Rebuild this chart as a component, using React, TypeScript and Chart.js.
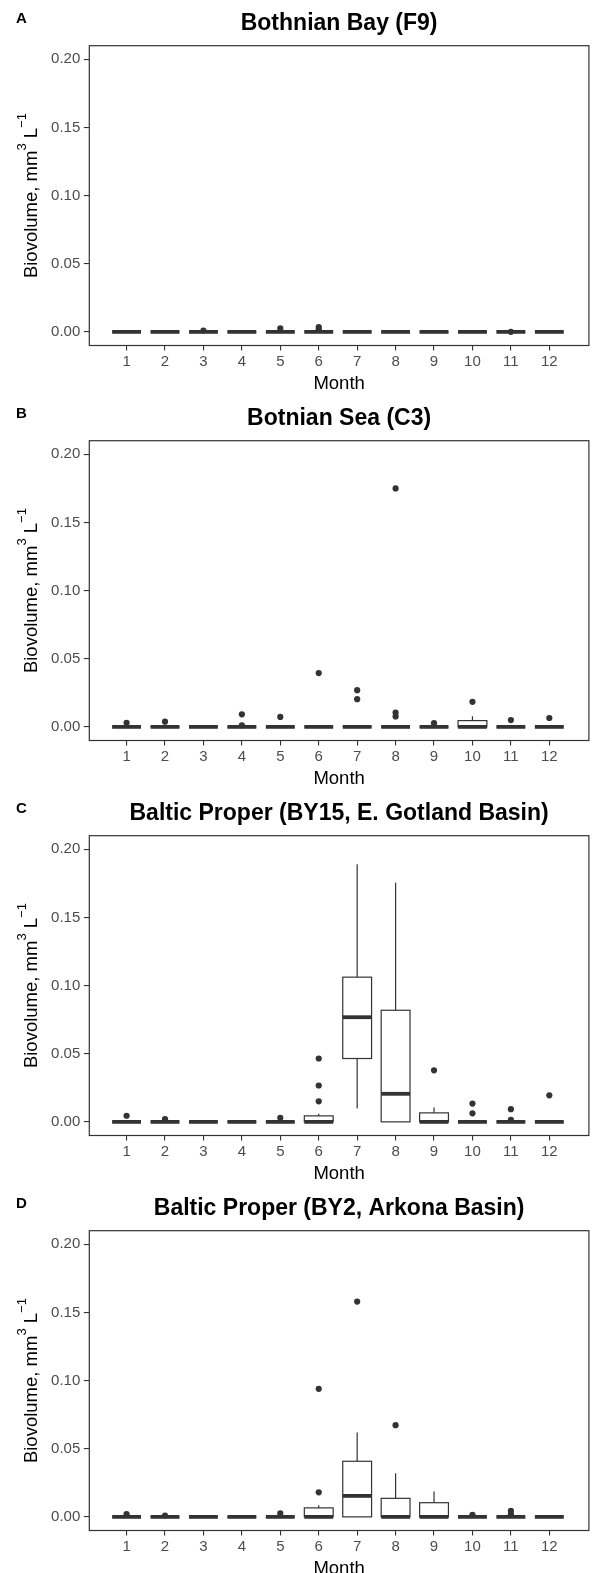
import React, { useEffect, useRef } from 'react';
import { Chart, registerables } from 'chart.js';

Chart.register(...registerables);

const FONT = "'Liberation Sans', Arial, Helvetica, sans-serif";
const INK = '#333333';
const TICK_TEXT = '#4D4D4D';

// ---------- data ----------
const MONTHS = [1, 2, 3, 4, 5, 6, 7, 8, 9, 10, 11, 12];
const Y_TICKS = [0, 0.05, 0.1, 0.15, 0.2];
const Y_MIN = -0.01;
const Y_MAX = 0.21;
const X_MIN = 0.03;
const X_MAX = 13.03;

const PANEL_LETTERS = ['A', 'B', 'C', 'D'];
const PANEL_TITLES = [
  'Bothnian Bay (F9)',
  'Botnian Sea (C3)',
  'Baltic Proper (BY15, E. Gotland Basin)',
  'Baltic Proper (BY2, Arkona Basin)',
];
const X_TITLE = 'Month';

// A: Bothnian Bay (F9)
const F9_LOW = [0, 0, 0, 0, 0, 0, 0, 0, 0, 0, 0, 0];
const F9_Q1 = [0, 0, 0, 0, 0, 0, 0, 0, 0, 0, 0, 0];
const F9_MED = [0, 0, 0, 0, 0, 0, 0, 0, 0, 0, 0, 0];
const F9_Q3 = [0, 0, 0, 0, 0, 0, 0, 0, 0, 0, 0, 0];
const F9_HIGH = [0, 0, 0, 0, 0, 0, 0, 0, 0, 0, 0, 0];
const F9_OUT = [[], [], [0.001], [], [0.0025], [0.002, 0.0035], [], [], [], [], [0], []];

// B: Botnian Sea (C3)
const C3_LOW = [0, 0, 0, 0, 0, 0, 0, 0, 0, 0, 0, 0];
const C3_Q1 = [0, 0, 0, 0, 0, 0, 0, 0, 0, 0, 0, 0];
const C3_MED = [0, 0, 0, 0, 0, 0, 0, 0, 0, 0, 0, 0];
const C3_Q3 = [0, 0, 0, 0, 0, 0, 0, 0, 0, 0.0046, 0, 0];
const C3_HIGH = [0, 0, 0, 0, 0, 0, 0, 0, 0, 0.0078, 0, 0];
const C3_OUT = [
  [0.003], [0.0038], [], [0.0092, 0.0012], [0.0073], [0.0395],
  [0.0269, 0.0203], [0.175, 0.0105, 0.0077], [0.0027], [0.0184], [0.005], [0.0065],
];

// C: Baltic Proper (BY15)
const BY15_LOW = [0, 0, 0, 0, 0, 0, 0.0098, 0, 0, 0, 0, 0];
const BY15_Q1 = [0, 0, 0, 0, 0, 0, 0.0465, 0, 0, 0, 0, 0];
const BY15_MED = [0, 0, 0, 0, 0, 0, 0.0768, 0.0206, 0, 0, 0, 0];
const BY15_Q3 = [0, 0, 0, 0, 0, 0.0044, 0.1062, 0.0819, 0.0066, 0, 0, 0];
const BY15_HIGH = [0, 0, 0, 0, 0, 0.006, 0.1891, 0.1755, 0.0105, 0, 0, 0];
const BY15_OUT = [
  [0.0045], [0.002], [], [], [0.003], [0.0465, 0.0267, 0.0151],
  [], [], [0.0378], [0.0134, 0.0063], [0.0093, 0.0014], [0.0195],
];

// D: Baltic Proper (BY2)
const BY2_LOW = [0, 0, 0, 0, 0, 0, 0, 0, 0, 0, 0, 0];
const BY2_Q1 = [0, 0, 0, 0, 0, 0, 0, 0, 0, 0, 0, 0];
const BY2_MED = [0, 0, 0, 0, 0, 0, 0.0154, 0, 0, 0, 0, 0];
const BY2_Q3 = [0, 0, 0, 0, 0, 0.0066, 0.0408, 0.0136, 0.0104, 0, 0, 0];
const BY2_HIGH = [0, 0, 0, 0, 0, 0.0085, 0.062, 0.032, 0.0187, 0, 0, 0];
const BY2_OUT = [
  [0.002], [0.001], [], [], [0.0025], [0.094, 0.018],
  [0.158], [0.0673], [], [0.0015], [0.0045, 0.002], [],
];

type Stats = {
  low: number[]; q1: number[]; med: number[]; q3: number[]; high: number[]; out: number[][];
};

const PANELS: Stats[] = [
  { low: F9_LOW, q1: F9_Q1, med: F9_MED, q3: F9_Q3, high: F9_HIGH, out: F9_OUT },
  { low: C3_LOW, q1: C3_Q1, med: C3_MED, q3: C3_Q3, high: C3_HIGH, out: C3_OUT },
  { low: BY15_LOW, q1: BY15_Q1, med: BY15_MED, q3: BY15_Q3, high: BY15_HIGH, out: BY15_OUT },
  { low: BY2_LOW, q1: BY2_Q1, med: BY2_MED, q3: BY2_Q3, high: BY2_HIGH, out: BY2_OUT },
];

// ---------- drawing ----------
const BOX_HALF = 0.375;
const PANEL_W = 592;
const PANEL_H = 395;

function makeBoxPlugin(stats: Stats) {
  return {
    id: 'boxes',
    afterDatasetsDraw(chart: any) {
      const xs = chart.scales.x;
      const ys = chart.scales.y;
      const ctx = chart.ctx as CanvasRenderingContext2D;
      ctx.save();
      ctx.strokeStyle = INK;
      ctx.lineCap = 'butt';
      MONTHS.forEach((m, i) => {
        const xl = xs.getPixelForValue(m - BOX_HALF);
        const xr = xs.getPixelForValue(m + BOX_HALF);
        const xc = xs.getPixelForValue(m);
        const yLow = ys.getPixelForValue(stats.low[i]);
        const yQ1 = ys.getPixelForValue(stats.q1[i]);
        const yMed = ys.getPixelForValue(stats.med[i]);
        const yQ3 = ys.getPixelForValue(stats.q3[i]);
        const yHigh = ys.getPixelForValue(stats.high[i]);
        ctx.lineWidth = 1.2;
        ctx.beginPath();
        ctx.moveTo(xc, yQ3);
        ctx.lineTo(xc, yHigh);
        ctx.moveTo(xc, yQ1);
        ctx.lineTo(xc, yLow);
        ctx.stroke();
        ctx.fillStyle = '#ffffff';
        ctx.fillRect(xl, yQ3, xr - xl, yQ1 - yQ3);
        ctx.strokeRect(xl, yQ3, xr - xl, yQ1 - yQ3);
        ctx.lineWidth = 3.8;
        ctx.beginPath();
        ctx.moveTo(xl, yMed);
        ctx.lineTo(xr, yMed);
        ctx.stroke();
      });
      ctx.restore();
    },
  };
}

function makeTextPlugin(letter: string) {
  return {
    id: 'panelText',
    afterDraw(chart: any) {
      const ctx = chart.ctx as CanvasRenderingContext2D;
      const ca = chart.chartArea;
      ctx.save();
      // panel border
      ctx.strokeStyle = INK;
      ctx.lineWidth = 1.2;
      ctx.strokeRect(ca.left, ca.top, ca.right - ca.left, ca.bottom - ca.top);
      // panel letter
      ctx.fillStyle = '#000';
      ctx.font = `bold 15px ${FONT}`;
      ctx.textAlign = 'left';
      ctx.textBaseline = 'middle';
      ctx.fillText(letter, 16, 18.5);
      // y axis title with superscripts
      const main = 18.5;
      const sup = 13;
      const raise = 10.5;
      const segs = [
        { t: 'Biovolume, mm', s: main, r: 0 },
        { t: '3', s: sup, r: raise },
        { t: ' L', s: main, r: 0 },
        { t: '\u22121', s: sup, r: raise },
      ];
      let total = 0;
      const widths = segs.map((sg) => {
        ctx.font = `${sg.s}px ${FONT}`;
        const w = ctx.measureText(sg.t).width;
        total += w;
        return w;
      });
      ctx.translate(36.5, (ca.top + ca.bottom) / 2);
      ctx.rotate(-Math.PI / 2);
      ctx.textBaseline = 'alphabetic';
      let x = -total / 2;
      segs.forEach((sg, k) => {
        ctx.font = `${sg.s}px ${FONT}`;
        ctx.fillText(sg.t, x, -sg.r);
        x += widths[k];
      });
      ctx.restore();
    },
  };
}

function buildConfig(index: number): any {
  const stats = PANELS[index];
  const points = stats.out.flatMap((vals, k) => vals.map((v) => ({ x: MONTHS[k], y: v })));
  return {
    type: 'scatter',
    data: {
      datasets: [
        {
          data: points,
          pointRadius: 3.1,
          pointHoverRadius: 3.1,
          pointBackgroundColor: INK,
          pointBorderColor: INK,
          pointBorderWidth: 0,
        },
      ],
    },
    options: {
      animation: false,
      responsive: false,
      events: [],
      layout: { padding: { left: 0, right: 1.5, top: 0, bottom: 0 } },
      plugins: {
        legend: { display: false },
        tooltip: { enabled: false },
        title: {
          display: true,
          text: PANEL_TITLES[index],
          fullSize: false,
          color: '#000',
          font: { family: FONT, size: 23, weight: 'bold', lineHeight: 1.2 },
          padding: { top: 9.6, bottom: 8.5 },
        },
      },
      scales: {
        x: {
          type: 'linear',
          min: X_MIN,
          max: X_MAX,
          afterBuildTicks: (s: any) => {
            s.ticks = MONTHS.map((v) => ({ value: v }));
          },
          afterFit: (s: any) => {
            s.height = 49.5;
          },
          grid: { display: true, drawOnChartArea: false, drawTicks: true, tickLength: 5, color: INK, lineWidth: 1.1 },
          border: { display: false },
          ticks: {
            color: TICK_TEXT,
            font: { family: FONT, size: 15, lineHeight: 1.2 },
            padding: 2.3,
            maxRotation: 0,
            autoSkip: false,
            callback: (v: any) => String(v),
          },
          title: {
            display: true,
            text: X_TITLE,
            color: '#000',
            font: { family: FONT, size: 18.5, lineHeight: 1.2 },
            padding: { top: 0, bottom: 0.4 },
          },
        },
        y: {
          type: 'linear',
          min: Y_MIN,
          max: Y_MAX,
          afterBuildTicks: (s: any) => {
            s.ticks = Y_TICKS.map((v) => ({ value: v }));
          },
          afterFit: (s: any) => {
            s.width = 89.3;
          },
          grid: { display: true, drawOnChartArea: false, drawTicks: true, tickLength: 5.5, color: INK, lineWidth: 1.1 },
          border: { display: false },
          ticks: {
            color: TICK_TEXT,
            font: { family: FONT, size: 15, lineHeight: 1.2 },
            padding: 3.5,
            callback: (v: any) => Number(v).toFixed(2),
          },
        },
      },
    },
    plugins: [makeBoxPlugin(stats), makeTextPlugin(PANEL_LETTERS[index])],
  };
}

function Panel({ index }: { index: number }) {
  const ref = useRef<HTMLCanvasElement>(null);
  useEffect(() => {
    if (!ref.current) return;
    const chart = new Chart(ref.current, buildConfig(index));
    return () => chart.destroy();
  }, [index]);
  return (
    <canvas
      ref={ref}
      width={PANEL_W}
      height={PANEL_H}
      style={{ display: 'block', width: PANEL_W, height: PANEL_H }}
    />
  );
}

export default function App() {
  return (
    <div
      style={{
        position: 'absolute',
        left: 0,
        top: 0,
        width: 592,
        height: 1573,
        overflow: 'hidden',
        background: '#ffffff',
      }}
    >
      {PANELS.map((_, i) => (
        <Panel key={i} index={i} />
      ))}
    </div>
  );
}
